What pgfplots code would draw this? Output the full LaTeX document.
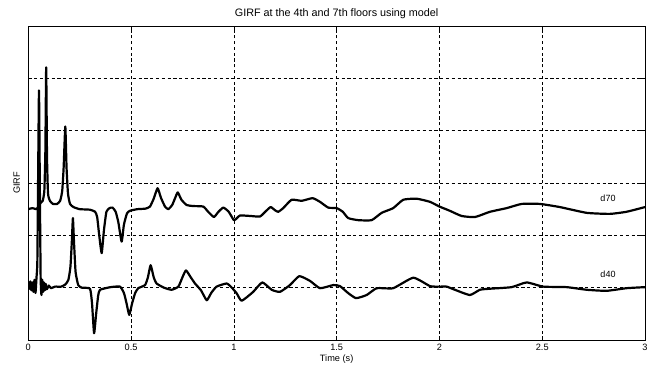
\documentclass[border=0pt]{standalone}
\usepackage{pgfplots}
\pgfplotsset{compat=1.18}
\usepackage{fontspec}
\setmainfont{Liberation Sans}

% Generalized impulse response functions, 7th floor (d70) and 4th floor (d40)
\pgfplotstableread{
t v
0 2.50
0.02 2.52
0.04 2.50
0.05 2.56
0.06 2.62
0.07 2.66
0.078 2.85
0.083 3.6
0.087 5.21
0.091 3.5
0.096 2.8
0.105 2.66
0.12 2.60
0.14 2.60
0.155 2.66
0.165 2.85
0.172 3.3
0.18 4.08
0.186 3.3
0.193 2.8
0.203 2.6
0.22 2.54
0.25 2.50
0.3 2.49
0.325 2.45
0.335 2.35
0.345 2.0
0.357 1.66
0.368 2.1
0.38 2.45
0.395 2.52
0.41 2.53
0.425 2.45
0.438 2.25
0.454 1.88
0.465 2.2
0.48 2.42
0.495 2.47
0.53 2.50
0.57 2.51
0.592 2.55
0.61 2.7
0.629 2.90
0.645 2.72
0.665 2.55
0.681 2.50
0.70 2.58
0.715 2.72
0.727 2.82
0.745 2.68
0.770 2.58
0.80 2.56
0.851 2.55
0.875 2.45
0.903 2.35
0.925 2.45
0.949 2.53
0.975 2.45
1.0 2.29
1.015 2.33
1.03 2.38
1.08 2.37
1.127 2.36
1.155 2.46
1.179 2.54
1.20 2.48
1.216 2.45
1.24 2.52
1.281 2.68
1.33 2.66
1.383 2.71
1.419 2.64
1.459 2.53
1.5 2.52
1.53 2.45
1.556 2.33
1.605 2.29
1.670 2.29
1.719 2.43
1.775 2.52
1.824 2.68
1.889 2.70
1.954 2.64
2.0 2.55
2.05 2.47
2.108 2.37
2.173 2.35
2.246 2.45
2.327 2.52
2.4 2.60
2.489 2.60
2.586 2.54
2.716 2.43
2.829 2.41
2.91 2.45
3.0 2.54
}\dseventy

\pgfplotstableread{
t v
0 1.05
0.005 0.98
0.01 1.12
0.015 0.95
0.02 1.1
0.025 0.92
0.03 1.15
0.035 0.9
0.04 1.2
0.044 1.5
0.048 3.2
0.052 4.77
0.056 3.0
0.06 1.2
0.064 0.86
0.068 1.15
0.072 0.92
0.076 1.1
0.08 0.95
0.085 1.07
0.09 0.97
0.1 1.04
0.11 0.99
0.13 1.02
0.16 1.02
0.18 1.06
0.195 1.15
0.205 1.4
0.212 1.9
0.217 2.33
0.222 1.9
0.23 1.3
0.243 1.05
0.26 1.0
0.3 0.98
0.31 0.7
0.32 0.13
0.33 0.5
0.34 0.85
0.349 0.96
0.40 1.01
0.446 1.02
0.465 0.9
0.478 0.7
0.491 0.48
0.505 0.7
0.52 0.9
0.535 0.99
0.568 1.05
0.582 1.2
0.595 1.43
0.61 1.2
0.624 1.08
0.66 1.0
0.697 0.96
0.730 1.02
0.75 1.2
0.767 1.33
0.79 1.2
0.811 1.08
0.84 0.95
0.868 0.76
0.89 0.9
0.916 1.02
0.965 1.08
0.99 1.0
1.014 0.89
1.038 0.75
1.094 0.92
1.138 1.10
1.184 0.96
1.224 0.92
1.273 1.05
1.318 1.22
1.370 1.13
1.419 0.99
1.484 1.05
1.516 1.03
1.555 0.9
1.594 0.80
1.646 0.86
1.695 0.99
1.775 0.99
1.873 1.19
1.954 1.03
2.0 1.02
2.035 1.02
2.075 0.96
2.148 0.86
2.197 0.96
2.246 0.98
2.351 1.01
2.424 1.10
2.505 1.02
2.619 1.01
2.716 0.96
2.813 0.94
2.91 0.99
3.0 1.01
}\dforty

\begin{document}
\begin{tikzpicture}
\begin{axis}[
  scale only axis,
  width=616.7pt, height=314pt,
  xmin=0, xmax=3, ymin=0, ymax=6,
  xtick={0,0.5,...,3},
  xticklabels={0,0.5,1,1.5,2,2.5,3},
  ytick={1,2,3,4,5},
  yticklabels={},
  tick align=inside,
  major tick length=4pt,
  tick style={black, line width=0.6pt},
  axis line style={line width=0.9pt},
  grid=major,
  grid style={black, line width=0.7pt, dash pattern=on 3.2pt off 2.6pt},
  ticklabel style={font=\fontsize{9.2}{10}\selectfont},
  /pgf/number format/assume math mode=true,
  xticklabel style={yshift=-1pt},
  title={GIRF at the 4th and 7th floors using model},
  title style={font=\fontsize{10.8}{12}\selectfont, yshift=-2pt},
  xlabel={Time (s)},
  xlabel style={font=\fontsize{9.2}{10}\selectfont, yshift=3pt},
  ylabel={GIRF},
  ylabel style={font=\fontsize{9.2}{10}\selectfont, yshift=-2pt},
]
\addplot[black, line width=2.2pt, line join=round, smooth, tension=0.3] table[x=t, y=v] {\dseventy};
\addplot[black, line width=2.2pt, line join=round, smooth, tension=0.3] table[x=t, y=v] {\dforty};
\node[font=\fontsize{9}{10}\selectfont] at (axis cs:2.82,2.71) {d70};
\node[font=\fontsize{9}{10}\selectfont] at (axis cs:2.82,1.26) {d40};
\end{axis}
\pgfresetboundingbox
\path ([shift={(-28.3pt,-30pt)}]current axis.south west) rectangle ([shift={(5pt,26pt)}]current axis.north east);
\end{tikzpicture}
\end{document}
